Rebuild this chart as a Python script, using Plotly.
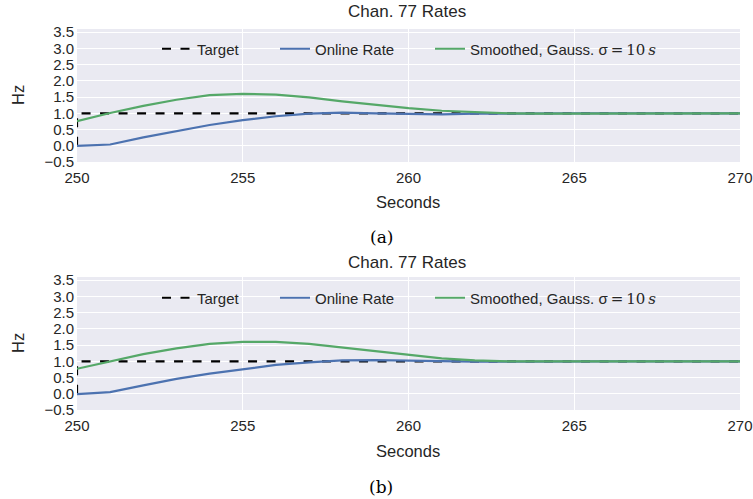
import plotly.graph_objects as go

seconds = list(range(250, 271))
target_x = [250, 250, 270]
target_y = [0, 1, 1]

online_a = [0.0, 0.04, 0.26, 0.46, 0.64, 0.79, 0.91, 0.99, 1.02, 1.0, 0.98,
            0.97, 0.99, 1.0, 1.0, 1.0, 1.0, 1.0, 1.0, 1.0, 1.0]
smooth_a = [0.76, 1.01, 1.23, 1.42, 1.56, 1.6, 1.58, 1.49, 1.37, 1.26, 1.16,
            1.08, 1.03, 1.0, 0.99, 0.99, 0.99, 0.99, 1.0, 1.0, 1.0]
online_b = [-0.01, 0.05, 0.26, 0.46, 0.62, 0.76, 0.89, 0.97, 1.03, 1.04, 1.02,
            1.0, 0.99, 0.99, 1.0, 1.0, 1.0, 1.0, 1.0, 1.0, 1.0]
smooth_b = [0.77, 1.0, 1.22, 1.4, 1.54, 1.6, 1.6, 1.54, 1.43, 1.31, 1.19,
            1.09, 1.03, 1.0, 1.0, 1.0, 1.0, 1.0, 1.01, 1.0, 1.0]

y_ticks = [-0.5, 0.0, 0.5, 1.0, 1.5, 2.0, 2.5, 3.0, 3.5]
x_ticks = [250, 255, 260, 265, 270]

BLUE = "#4C72B0"
GREEN = "#55A868"
TXT = "#262626"
SANS = "Liberation Sans, Arial, sans-serif"
SERIF = "DejaVu Serif, serif"

smooth_label = ("Smoothed, Gauss. σ<span style='font-family:DejaVu Serif'>\u2009=\u200910\u2009<i>s</i></span>")

H0, H1 = 410, 29  # pixel bottom/top of plotting region
def py(px):
    return (H0 - px) / (H0 - H1)
def pxx(px):
    return (px - 77) / 663

legend_common = dict(orientation="h", xanchor="left", yanchor="middle",
                     bgcolor="rgba(0,0,0,0)", font=dict(family=SANS, size=15, color=TXT))
legend_x = [157, 275, 430]   # pixel start of each legend entry
legend_y = [49, 298]         # pixel centre of legend row per panel

fig = go.Figure()
legends = {}
for p, (suffix, on, sm) in enumerate([("", online_a, smooth_a), ("2", online_b, smooth_b)]):
    xa = "x" + suffix
    ya = "y" + suffix
    specs = [
        ("Target", target_x, target_y, dict(color="black", width=2.2, dash="9px,9.5px")),
        ("Online Rate", seconds, on, dict(color=BLUE, width=2.2)),
        (smooth_label, seconds, sm, dict(color=GREEN, width=2.2)),
    ]
    for i, (name, xs, ys, line) in enumerate(specs):
        idx = p * 3 + i + 1
        lname = "legend" if idx == 1 else f"legend{idx}"
        fig.add_trace(go.Scatter(x=xs, y=ys, mode="lines", name=name, line=line,
                                 xaxis=xa, yaxis=ya, legend=lname))
        legends[lname] = dict(legend_common, x=pxx(legend_x[i]), y=py(legend_y[p]))

axis_common = dict(showgrid=True, gridcolor="white", gridwidth=1.2, zeroline=False,
                   showline=False, ticks="", automargin=False,
                   tickfont=dict(family=SANS, size=15, color=TXT))
xcommon = dict(axis_common, range=[250, 270], tickvals=x_ticks, ticklabelstandoff=5)
ycommon = dict(axis_common, range=[-0.5, 3.6], tickvals=y_ticks, tickformat=".1f",
               ticklabelstandoff=2)

fig.update_layout(
    width=753, height=499,
    margin=dict(l=77, r=13, t=29, b=89, autoexpand=False),
    paper_bgcolor="white", plot_bgcolor="#EAEAF2",
    font=dict(family=SANS, size=15, color=TXT),
    xaxis=dict(xcommon, domain=[0, 1], anchor="y"),
    yaxis=dict(ycommon, domain=[py(162), 1], anchor="x"),
    xaxis2=dict(xcommon, domain=[0, 1], anchor="y2"),
    yaxis2=dict(ycommon, domain=[0, py(277)], anchor="x2"),
    showlegend=True,
    **legends,
)

annots = []
for title_y, sec_y, lab_y, hz_y, lab in [(12, 202, 237, 95, "(a)"), (262, 451, 487, 343, "(b)")]:
    annots.append(dict(text="Chan. 77 Rates", x=pxx(407), y=py(title_y), xref="paper", yref="paper",
                       showarrow=False, xanchor="center", yanchor="middle",
                       font=dict(family=SANS, size=17, color=TXT)))
    annots.append(dict(text="Seconds", x=pxx(408), y=py(sec_y), xref="paper", yref="paper",
                       showarrow=False, xanchor="center", yanchor="middle",
                       font=dict(family=SANS, size=16.5, color=TXT)))
    annots.append(dict(text="Hz", x=pxx(18), y=py(hz_y), xref="paper", yref="paper",
                       showarrow=False, xanchor="center", yanchor="middle", textangle=-90,
                       font=dict(family=SANS, size=16.5, color=TXT)))
    annots.append(dict(text=lab, x=pxx(381), y=py(lab_y), xref="paper", yref="paper",
                       showarrow=False, xanchor="center", yanchor="middle",
                       font=dict(family=SERIF, size=17, color="black")))
fig.update_layout(annotations=annots)

fig.write_html("out.html")
